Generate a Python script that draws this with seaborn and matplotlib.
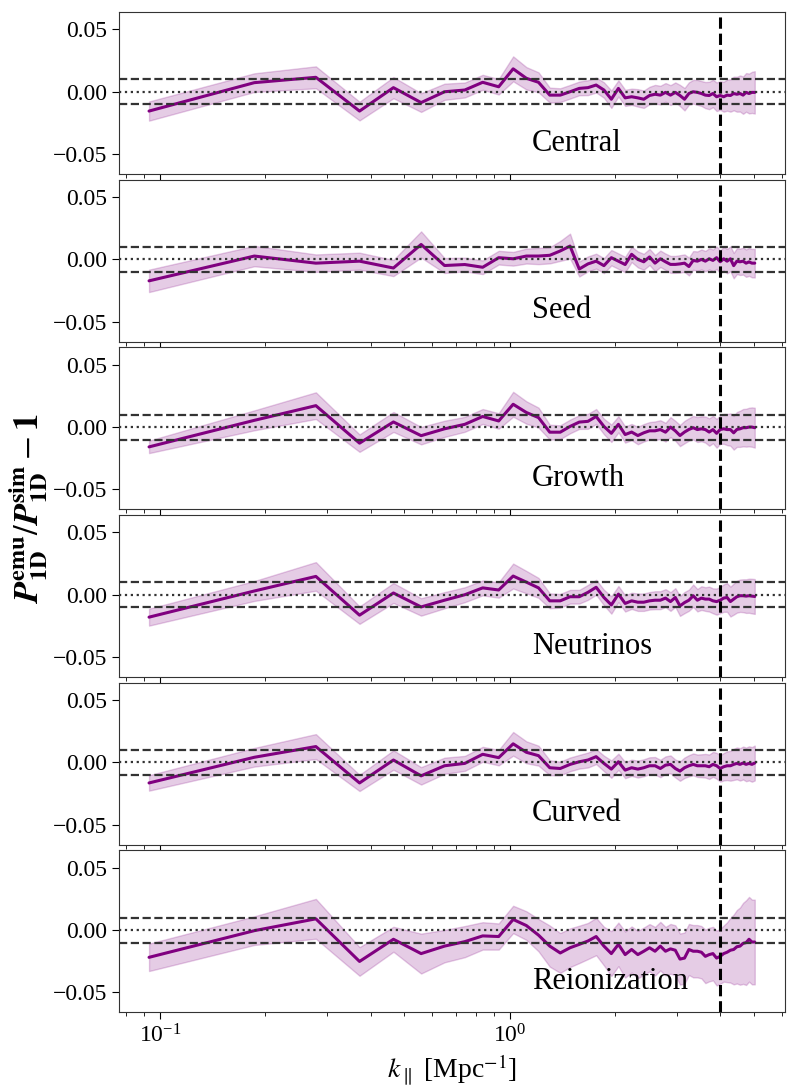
import numpy as np
import matplotlib
matplotlib.use("Agg")
import matplotlib.pyplot as plt
import seaborn as sns

# Modos k (Mpc^-1)
k_par = [0.093, 0.186, 0.279, 0.372, 0.465, 0.558, 0.651, 0.744, 0.837, 0.930,
         1.023, 1.116, 1.209, 1.302, 1.395, 1.488, 1.581, 1.674, 1.767, 1.860,
         1.953, 2.046, 2.139, 2.232, 2.325, 2.418, 2.511, 2.604, 2.697, 2.790,
         2.883, 2.976, 3.069, 3.162, 3.255, 3.348, 3.441, 3.534, 3.627, 3.720,
         3.813, 3.906, 3.999, 4.092, 4.185, 4.278, 4.371, 4.464, 4.557, 4.650,
         4.743, 4.836, 4.929, 5.022]

labels = ["Central", "Seed", "Growth", "Neutrinos", "Curved", "Reionization"]

central = [-0.0155, 0.0073, 0.0116, -0.0155, 0.0033, -0.0087, 0.0000, 0.0014, 0.0076, 0.0040,
           0.0184, 0.0108, 0.0076, -0.0027, -0.0027, 0.0000, 0.0027, 0.0033, 0.0054, 0.0014,
           -0.0060, 0.0027, -0.0049, -0.0040, -0.0049, -0.0060, -0.0030, -0.0020, -0.0027, -0.0005,
           -0.0027, -0.0005, -0.0030, -0.0060, -0.0014, 0.0000, -0.0005, -0.0014, -0.0027, -0.0030,
           -0.0014, -0.0040, -0.0030, -0.0040, -0.0027, -0.0030, -0.0014, -0.0020, -0.0014, -0.0027,
           -0.0005, -0.0014, -0.0005, -0.0005]
central_err = [0.0077, 0.0075, 0.0088, 0.0075, 0.0085, 0.0075, 0.0065, 0.0060, 0.0060, 0.0062,
               0.0100, 0.0090, 0.0080, 0.0060, 0.0055, 0.0055, 0.0055, 0.0060, 0.0060, 0.0062,
               0.0070, 0.0065, 0.0065, 0.0065, 0.0070, 0.0070, 0.0070, 0.0075, 0.0075, 0.0075,
               0.0080, 0.0080, 0.0085, 0.0090, 0.0090, 0.0095, 0.0100, 0.0100, 0.0105, 0.0110,
               0.0110, 0.0115, 0.0115, 0.0120, 0.0125, 0.0130, 0.0135, 0.0140, 0.0145, 0.0150,
               0.0155, 0.0160, 0.0165, 0.0170]

seed = [-0.0172, 0.0027, -0.0030, -0.0014, -0.0069, 0.0120, -0.0049, -0.0041, -0.0063, 0.0014,
        0.0005, 0.0027, 0.0027, 0.0033, 0.0068, 0.0107, -0.0077, -0.0036, -0.0014, -0.0050,
        0.0014, -0.0014, -0.0041, 0.0041, 0.0000, -0.0019, 0.0020, -0.0030, 0.0005, -0.0019,
        -0.0040, -0.0040, -0.0036, -0.0030, -0.0057, -0.0008, -0.0014, 0.0000, -0.0014, 0.0005,
        -0.0008, 0.0014, -0.0019, 0.0005, -0.0014, 0.0005, -0.0050, -0.0014, -0.0019, -0.0014,
        -0.0030, -0.0020, -0.0030, -0.0030]
seed_err = [0.0090, 0.0082, 0.0070, 0.0068, 0.0065, 0.0105, 0.0060, 0.0055, 0.0055, 0.0055,
            0.0055, 0.0060, 0.0065, 0.0065, 0.0080, 0.0100, 0.0060, 0.0060, 0.0060, 0.0060,
            0.0062, 0.0062, 0.0062, 0.0062, 0.0064, 0.0064, 0.0065, 0.0065, 0.0066, 0.0066,
            0.0068, 0.0068, 0.0070, 0.0070, 0.0072, 0.0075, 0.0078, 0.0080, 0.0082, 0.0085,
            0.0088, 0.0090, 0.0092, 0.0095, 0.0098, 0.0100, 0.0102, 0.0104, 0.0106, 0.0108,
            0.0110, 0.0112, 0.0114, 0.0115]

growth = [-0.0159, 0.0054, 0.0172, -0.0129, 0.0041, -0.0069, -0.0014, 0.0022, 0.0085, 0.0049,
          0.0183, 0.0117, 0.0076, -0.0041, -0.0041, 0.0005, 0.0040, 0.0046, 0.0085, 0.0005,
          -0.0050, 0.0022, -0.0060, -0.0040, -0.0068, -0.0046, -0.0030, -0.0030, -0.0020, -0.0041,
          0.0000, -0.0030, -0.0068, -0.0040, -0.0019, -0.0005, -0.0020, -0.0014, -0.0020, -0.0040,
          -0.0020, -0.0050, -0.0020, -0.0014, -0.0020, -0.0020, -0.0046, -0.0019, -0.0014, -0.0005,
          -0.0005, 0.0000, 0.0000, -0.0005]
growth_err = [0.0050, 0.0080, 0.0107, 0.0070, 0.0080, 0.0070, 0.0065, 0.0060, 0.0060, 0.0062,
              0.0100, 0.0090, 0.0080, 0.0060, 0.0055, 0.0055, 0.0055, 0.0060, 0.0060, 0.0062,
              0.0070, 0.0065, 0.0065, 0.0065, 0.0070, 0.0070, 0.0070, 0.0075, 0.0075, 0.0075,
              0.0080, 0.0080, 0.0085, 0.0090, 0.0090, 0.0095, 0.0100, 0.0100, 0.0105, 0.0110,
              0.0110, 0.0115, 0.0115, 0.0120, 0.0125, 0.0130, 0.0135, 0.0140, 0.0145, 0.0150,
              0.0152, 0.0155, 0.0158, 0.0160]

neutrinos = [-0.0180, 0.0030, 0.0147, -0.0164, 0.0014, -0.0098, -0.0044, 0.0000, 0.0055, 0.0038,
             0.0150, 0.0101, 0.0055, -0.0049, -0.0049, -0.0016, -0.0016, 0.0019, 0.0060, -0.0022,
             -0.0082, 0.0005, -0.0070, -0.0049, -0.0060, -0.0060, -0.0049, -0.0044, -0.0044, -0.0027,
             -0.0055, -0.0022, -0.0090, -0.0063, -0.0044, -0.0008, -0.0044, -0.0027, -0.0035, -0.0035,
             -0.0049, -0.0055, -0.0044, -0.0027, -0.0022, -0.0055, -0.0035, -0.0016, -0.0008, -0.0008,
             -0.0011, -0.0008, -0.0011, -0.0014]
neutrinos_err = [0.0068, 0.0080, 0.0115, 0.0070, 0.0080, 0.0070, 0.0065, 0.0060, 0.0060, 0.0062,
                 0.0100, 0.0090, 0.0080, 0.0060, 0.0055, 0.0055, 0.0055, 0.0060, 0.0060, 0.0062,
                 0.0070, 0.0065, 0.0065, 0.0065, 0.0070, 0.0070, 0.0070, 0.0072, 0.0072, 0.0072,
                 0.0075, 0.0075, 0.0080, 0.0085, 0.0085, 0.0090, 0.0090, 0.0095, 0.0095, 0.0100,
                 0.0100, 0.0105, 0.0105, 0.0110, 0.0115, 0.0120, 0.0125, 0.0128, 0.0130, 0.0132,
                 0.0135, 0.0137, 0.0139, 0.0140]

curved = [-0.0165, 0.0041, 0.0127, -0.0165, 0.0019, -0.0108, -0.0027, -0.0008, 0.0065, 0.0038,
          0.0149, 0.0081, 0.0054, -0.0043, -0.0049, -0.0016, 0.0005, 0.0019, 0.0046, -0.0008,
          -0.0054, 0.0005, -0.0062, -0.0043, -0.0054, -0.0043, -0.0027, -0.0027, -0.0049, -0.0022,
          -0.0016, -0.0049, -0.0070, -0.0043, -0.0027, -0.0016, -0.0027, -0.0027, -0.0027, -0.0035,
          -0.0016, -0.0027, -0.0049, -0.0035, -0.0027, -0.0027, -0.0016, -0.0008, -0.0016, -0.0005,
          -0.0016, -0.0008, -0.0016, -0.0005]
curved_err = [0.0062, 0.0075, 0.0100, 0.0065, 0.0078, 0.0070, 0.0065, 0.0060, 0.0060, 0.0062,
              0.0095, 0.0088, 0.0080, 0.0060, 0.0055, 0.0055, 0.0055, 0.0060, 0.0060, 0.0062,
              0.0070, 0.0065, 0.0065, 0.0065, 0.0068, 0.0068, 0.0068, 0.0070, 0.0070, 0.0070,
              0.0072, 0.0072, 0.0078, 0.0082, 0.0085, 0.0088, 0.0090, 0.0092, 0.0095, 0.0098,
              0.0100, 0.0104, 0.0106, 0.0110, 0.0115, 0.0120, 0.0125, 0.0128, 0.0130, 0.0132,
              0.0135, 0.0137, 0.0139, 0.0140]

reionization = [-0.0219, -0.0005, 0.0090, -0.0252, -0.0074, -0.0189, -0.0129, -0.0093, -0.0047, -0.0052,
                0.0085, 0.0036, -0.0041, -0.0129, -0.0184, -0.0142, -0.0115, -0.0088, -0.0052, -0.0129,
                -0.0189, -0.0115, -0.0197, -0.0156, -0.0197, -0.0170, -0.0142, -0.0170, -0.0129, -0.0170,
                -0.0151, -0.0162, -0.0233, -0.0225, -0.0156, -0.0170, -0.0170, -0.0178, -0.0211, -0.0197,
                -0.0189, -0.0225, -0.0211, -0.0189, -0.0178, -0.0162, -0.0156, -0.0134, -0.0129, -0.0107,
                -0.0101, -0.0074, -0.0096, -0.0096]
reionization_err = [0.0110, 0.0115, 0.0160, 0.0115, 0.0100, 0.0160, 0.0130, 0.0125, 0.0110, 0.0105,
                    0.0110, 0.0115, 0.0130, 0.0165, 0.0160, 0.0155, 0.0150, 0.0145, 0.0150, 0.0155,
                    0.0180, 0.0175, 0.0185, 0.0185, 0.0190, 0.0190, 0.0190, 0.0195, 0.0195, 0.0195,
                    0.0200, 0.0200, 0.0205, 0.0205, 0.0205, 0.0210, 0.0210, 0.0210, 0.0215, 0.0215,
                    0.0215, 0.0220, 0.0220, 0.0225, 0.0240, 0.0260, 0.0280, 0.0295, 0.0310, 0.0325,
                    0.0340, 0.0340, 0.0340, 0.0340]

valores = [central, seed, growth, neutrinos, curved, reionization]
erros = [central_err, seed_err, growth_err, neutrinos_err, curved_err, reionization_err]

k_max = 4.0

sns.set_style("ticks")
plt.rcParams["font.family"] = ["Liberation Serif", "DejaVu Serif"]
plt.rcParams["mathtext.fontset"] = "stix"
plt.rcParams["axes.edgecolor"] = "#333333"
plt.rcParams["text.color"] = "black"
plt.rcParams["axes.labelcolor"] = "black"
plt.rcParams["xtick.color"] = "black"
plt.rcParams["ytick.color"] = "black"

fig, axes = plt.subplots(6, 1, figsize=(7.97, 10.92), dpi=100, sharex=True)
fig.subplots_adjust(left=0.149, right=0.985, top=0.989, bottom=0.073, hspace=0.035)

for ax, nome, y, err in zip(axes, labels, valores, erros):
    y = np.array(y)
    err = np.array(err)
    ax.fill_between(k_par, y - err, y + err, color="purple", alpha=0.2, lw=1)
    sns.lineplot(x=k_par, y=y, ax=ax, color="purple", lw=2.2, sort=False)

    # Linhas de referência
    ax.axhline(0.01, color="#333333", ls="--", lw=1.6)
    ax.axhline(-0.01, color="#333333", ls="--", lw=1.6)
    ax.axhline(0.0, color="#333333", ls=":", lw=1.6)
    ax.axvline(k_max, color="black", ls="--", lw=2.2)

    ax.text(0.62, 0.19, nome, transform=ax.transAxes, fontsize=22,
            ha="left", va="center")

    ax.set_xscale("log")
    ax.set_ylim(-0.066, 0.064)
    ax.set_yticks([-0.05, 0.0, 0.05])
    ax.set_yticklabels(["\u22120.05", "0.00", "0.05"])
    ax.tick_params(axis="both", which="major", labelsize=17, length=5)
    ax.tick_params(axis="x", which="minor", length=3)

axes[-1].set_xlabel(r"$k_\parallel$ [Mpc$^{-1}$]", fontsize=20)
fig.text(0.035, 0.535,
         r"$\boldsymbol{P}_{\mathbf{1D}}^{\mathbf{emu}}/\boldsymbol{P}_{\mathbf{1D}}^{\mathbf{sim}}-\mathbf{1}$",
         rotation=90, fontsize=25, ha="center", va="center")

fig.savefig("out.png", dpi=100)
